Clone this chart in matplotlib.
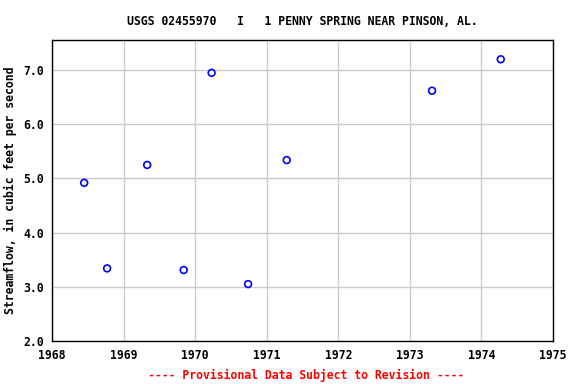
import matplotlib
matplotlib.use('Agg')
import matplotlib.pyplot as plt
from matplotlib.ticker import FormatStrFormatter

# streamflow measurements (decimal year, cfs)
years = [1968.45, 1968.77, 1969.33, 1969.84, 1970.23, 1970.74, 1971.28, 1973.31, 1974.27]
flow = [4.92, 3.34, 5.25, 3.31, 6.95, 3.05, 5.34, 6.62, 7.20]

xticks = [1968, 1969, 1970, 1971, 1972, 1973, 1974, 1975]
yticks = [2.0, 3.0, 4.0, 5.0, 6.0, 7.0]

plt.rcParams['font.family'] = 'DejaVu Sans Mono'
plt.rcParams['font.weight'] = 'bold'
fs = 8.3

fig = plt.figure(figsize=(5.76, 3.84), dpi=100)
ax = fig.add_axes([52/576, 43/384, 501/576, 301/384])

ax.scatter(years, flow, s=24, facecolors='none', edgecolors='blue', linewidths=1.2, zorder=3)

ax.set_xlim(1968, 1975)
ax.set_ylim(2.0, 7.556)
ax.set_xticks(xticks)
ax.set_yticks(yticks)
ax.yaxis.set_major_formatter(FormatStrFormatter('%.1f'))
ax.grid(True, color='#cccccc', linewidth=1)
ax.set_axisbelow(True)
ax.tick_params(labelsize=fs, length=0, pad=6)
for s in ax.spines.values():
    s.set_linewidth(1)

ax.set_title('USGS 02455970   I   1 PENNY SPRING NEAR PINSON, AL.',
             fontsize=fs, fontweight='bold', pad=11)
ax.set_ylabel('Streamflow, in cubic feet per second', fontsize=fs, fontweight='bold', labelpad=4)
fig.text(306/576, 0.005, '---- Provisional Data Subject to Revision ----',
         color='red', ha='center', va='bottom', fontsize=fs, fontweight='bold')

fig.savefig('out.png', dpi=100)
